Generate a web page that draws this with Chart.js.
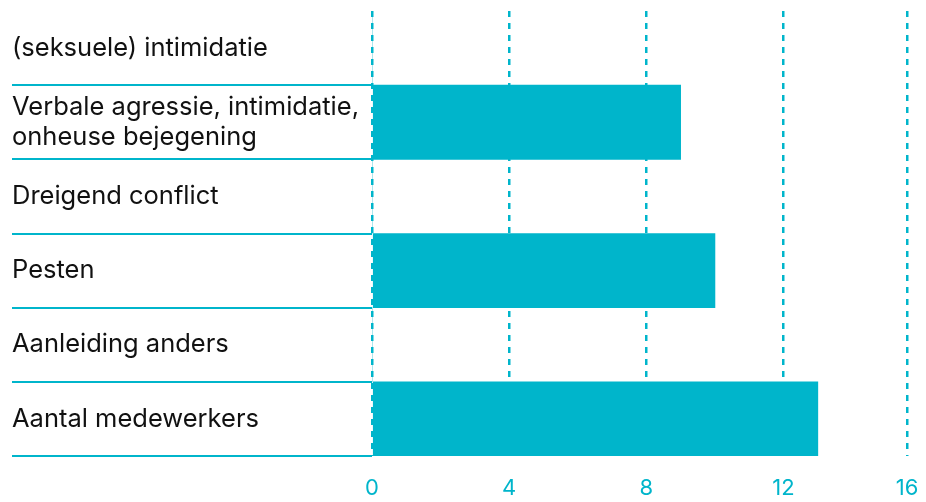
<!DOCTYPE html>
<html>
<head>
<meta charset="utf-8">
<script src="https://cdn.jsdelivr.net/npm/chart.js@4/dist/chart.umd.min.js"></script>
<style>
  html, body { margin: 0; padding: 0; background: #fff; }
  #wrap { width: 926px; height: 502px; }
</style>
</head>
<body>
<div id="wrap"><canvas id="chart"></canvas></div>
<script>
// categories (top to bottom)
var categories = [
  "(seksuele) intimidatie",
  ["Verbale agressie, intimidatie,", "onheuse bejegening"],
  "Dreigend conflict",
  "Pesten",
  "Aanleiding anders",
  "Aantal medewerkers"
];
var values = [0, 9, 0, 10, 0, 13];

// x ticks as drawn in the picture (the last line sits a bit short of a full 16)
var xTickValues = [0, 4, 8, 12, 15.6];
var xTickLabels = ["0", "4", "8", "12", "16"];

var cyan = "#00b5cb";
var font = "Inter, 'Noto Sans', sans-serif";

var ctx = document.getElementById("chart");
var chart = new Chart(ctx, {
  type: "bar",
  data: {
    labels: categories,
    datasets: [{
      data: values,
      backgroundColor: cyan,
      borderWidth: 0,
      barPercentage: 1,
      categoryPercentage: 1
    }]
  },
  options: {
    indexAxis: "y",
    responsive: true,
    maintainAspectRatio: false,
    animation: false,
    layout: { padding: { left: 12, top: 11, right: 19, bottom: 0 } },
    plugins: {
      legend: { display: false },
      tooltip: { enabled: false }
    },
    scales: {
      x: {
        min: 0,
        max: 15.6,
        afterBuildTicks: function(axis) {
          axis.ticks = xTickValues.map(function(v) { return { value: v }; });
        },
        ticks: {
          color: cyan,
          padding: 19,
          font: { family: font, size: 22 },
          callback: function(v, i) { return xTickLabels[i]; }
        },
        grid: { color: cyan, lineWidth: 2.5, drawTicks: false },
        border: { display: false, dash: [6, 6] },
        afterFit: function(scale) {
          scale.height = 46;
          scale.paddingLeft = 0;
          scale.paddingRight = 0;
        }
      },
      y: {
        grid: {
          offset: true,
          drawOnChartArea: false,
          tickLength: 360,
          lineWidth: 2,
          color: function(c) { return c.index === 0 ? "rgba(0,0,0,0)" : cyan; }
        },
        border: { display: false },
        ticks: {
          crossAlign: "far",
          color: "#111",
          padding: 0,
          font: { family: font, size: 25.5, lineHeight: 1.2 }
        },
        afterFit: function(scale) {
          scale.width = 360;
          scale.paddingTop = 0;
          scale.paddingBottom = 0;
        }
      }
    }
  }
});
</script>
</body>
</html>
